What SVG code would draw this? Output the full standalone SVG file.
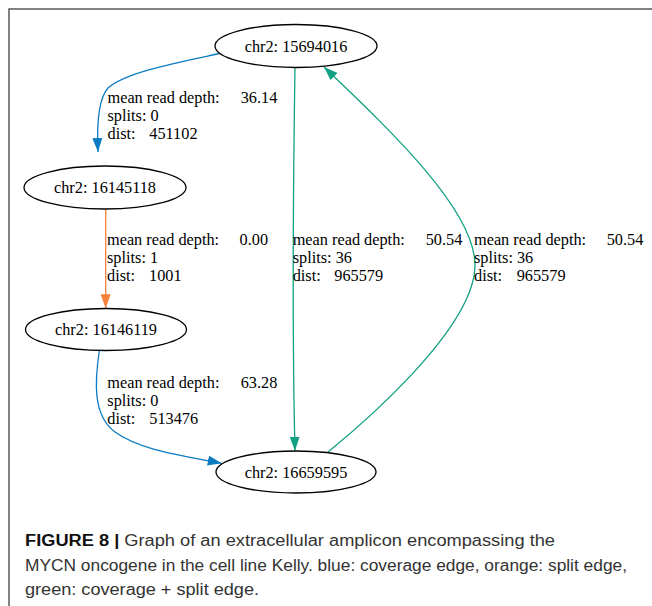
<svg xmlns="http://www.w3.org/2000/svg" width="652" height="606" viewBox="0 0 652 606">
<style>
.node ellipse{fill:#fff;stroke:#000;stroke-width:1.3}
.node text{font-family:"Liberation Serif","Times New Roman",serif;font-size:16.3px;fill:#000;text-anchor:middle}
.lbl{font-family:"Liberation Serif","Times New Roman",serif;font-size:16.3px;fill:#000}
.e{fill:none;stroke-width:1.3}
.blue{stroke:#0b7bc4}
.orange{stroke:#f5813a}
.green{stroke:#12a084}
.cap{font-family:"Liberation Sans",Arial,sans-serif;font-size:16px;fill:#333}
</style>
<defs>
<marker id="ab" viewBox="0 0 14 10" refX="14" refY="5" markerWidth="14" markerHeight="10" markerUnits="userSpaceOnUse" orient="auto"><path d="M0,0 L14,5 L0,10 Z" fill="#0b7bc4"/></marker>
<marker id="ao" viewBox="0 0 14 10" refX="14" refY="5" markerWidth="14" markerHeight="10" markerUnits="userSpaceOnUse" orient="auto"><path d="M0,0 L14,5 L0,10 Z" fill="#f5813a"/></marker>
<marker id="ag" viewBox="0 0 14 10" refX="14" refY="5" markerWidth="14" markerHeight="10" markerUnits="userSpaceOnUse" orient="auto"><path d="M0,0 L14,5 L0,10 Z" fill="#12a084"/></marker>
</defs>
<rect width="652" height="606" fill="#fff"/>
<path d="M9,606 L9,9 L652,9" fill="none" stroke="#5a5a5a" stroke-width="1.5"/>
<g id="connectors">
<path class="e blue" d="M222,53 C180,62 125,72 108,88 C97,100 97,130 98,152" marker-end="url(#ab)"/>
<path class="e orange" d="M105.7,209 L105.7,308.3" marker-end="url(#ao)"/>
<path class="e blue" d="M99.3,351 C95,380 92,415 115,432 C140,450 180,455 221.7,463.3" marker-end="url(#ab)"/>
<path class="e green" d="M295,67 C293,200 292,330 295,450.7" marker-end="url(#ag)"/>
<path class="e green" d="M328,452 C355,430 475,330 475,265 C475,210 390,130 324,67" marker-end="url(#ag)"/>
</g>
<g id="label1" class="lbl"><text x="107.5" y="103">mean read depth:<tspan x="240.7">36.14</tspan></text><text x="107.5" y="121">splits: 0</text><text x="107.5" y="139">dist:<tspan x="149.3">451102</tspan></text></g>
<g id="label2" class="lbl"><text x="107" y="245">mean read depth:<tspan x="239.6">0.00</tspan></text><text x="107" y="263">splits: 1</text><text x="107" y="281">dist:<tspan x="149">1001</tspan></text></g>
<g id="label3" class="lbl"><text x="292.7" y="245">mean read depth:<tspan x="425.7">50.54</tspan></text><text x="292.7" y="263">splits: 36</text><text x="292.7" y="281">dist:<tspan x="334.3">965579</tspan></text></g>
<g id="label4" class="lbl"><text x="474" y="245">mean read depth:<tspan x="606.7">50.54</tspan></text><text x="474" y="263">splits: 36</text><text x="474" y="281">dist:<tspan x="516.7">965579</tspan></text></g>
<g id="label5" class="lbl"><text x="107.3" y="388">mean read depth:<tspan x="240.7">63.28</tspan></text><text x="107.3" y="406">splits: 0</text><text x="107.3" y="424">dist:<tspan x="149.3">513476</tspan></text></g>
<g id="n15694016" class="node"><ellipse cx="296" cy="46" rx="81" ry="21.5"/><text x="296" y="51.5">chr2: 15694016</text></g>
<g id="n16145118" class="node"><ellipse cx="105" cy="187.5" rx="81" ry="21.5"/><text x="105" y="193">chr2: 16145118</text></g>
<g id="n16146119" class="node"><ellipse cx="106" cy="329.5" rx="80.5" ry="21"/><text x="106" y="335">chr2: 16146119</text></g>
<g id="n16659595" class="node"><ellipse cx="296" cy="472" rx="80" ry="21"/><text x="296" y="477.5">chr2: 16659595</text></g>
<g id="caption">
<text class="cap" x="25" y="546" textLength="530" lengthAdjust="spacingAndGlyphs"><tspan font-weight="bold" fill="#111">FIGURE 8 |</tspan> Graph of an extracellular amplicon encompassing the</text>
<text class="cap" x="25" y="571" textLength="602" lengthAdjust="spacingAndGlyphs">MYCN oncogene in the cell line Kelly. blue: coverage edge, orange: split edge,</text>
<text class="cap" x="25" y="595" textLength="234" lengthAdjust="spacingAndGlyphs">green: coverage + split edge.</text>
</g>
</svg>
